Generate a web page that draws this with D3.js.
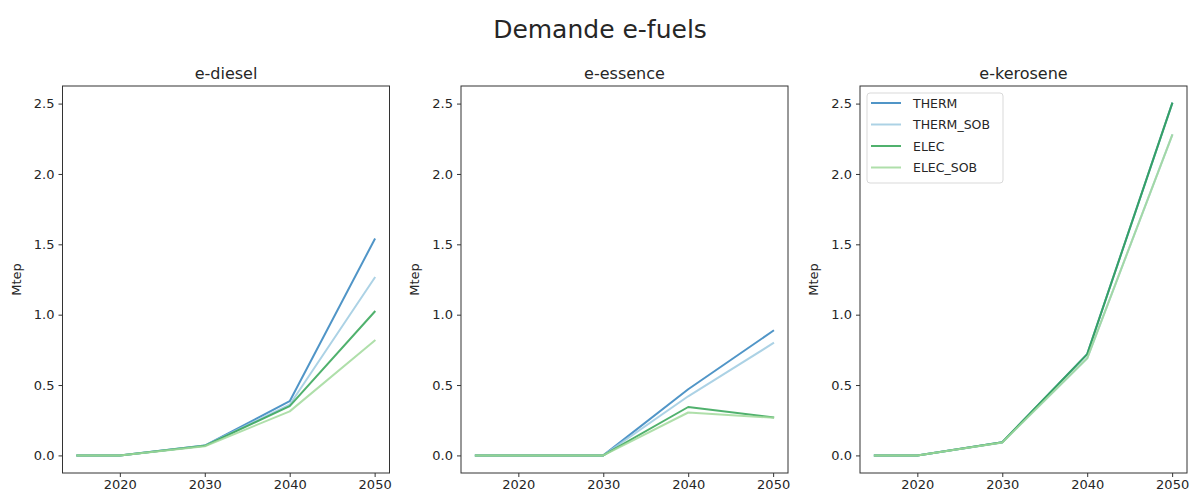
<!DOCTYPE html>
<html><head><meta charset="utf-8">
<script src="https://cdn.jsdelivr.net/npm/d3@7"></script>
<style>body{margin:0;background:#fff;} text{font-family:"DejaVu Sans",sans-serif;fill:#262626;}</style>
</head><body>
<svg id="c" width="1189" height="493"></svg>
<script>
const years = [2015, 2020, 2030, 2040, 2050];
const panels = ["e-diesel", "e-essence", "e-kerosene"];
const seriesNames = ["THERM", "THERM_SOB", "ELEC", "ELEC_SOB"];
const colors = ["#3182bd", "#9ecae1", "#31a354", "#a1d99b"];
// values per panel, per series
const dieselTHERM = [0, 0, 0.07, 0.385, 1.535];
const dieselTHERM_SOB = [0, 0, 0.07, 0.36, 1.262];
const dieselELEC = [0, 0, 0.068, 0.35, 1.021];
const dieselELEC_SOB = [0, 0, 0.065, 0.313, 0.815];
const essenceTHERM = [0, 0, 0, 0.47, 0.885];
const essenceTHERM_SOB = [0, 0, 0, 0.42, 0.797];
const essenceELEC = [0, 0, 0, 0.344, 0.271];
const essenceELEC_SOB = [0, 0, 0, 0.305, 0.268];
const keroseneTHERM = [0, 0, 0.094, 0.72, 2.5];
const keroseneTHERM_SOB = [0, 0, 0.092, 0.69, 2.275];
const keroseneELEC = [0, 0, 0.094, 0.72, 2.5];
const keroseneELEC_SOB = [0, 0, 0.092, 0.69, 2.275];
const yTicks = [0.0, 0.5, 1.0, 1.5, 2.0, 2.5];
const xTicks = [2020, 2030, 2040, 2050];
const title = "Demande e-fuels";
const yLabel = "Mtep";

const data = [
  [dieselTHERM, dieselTHERM_SOB, dieselELEC, dieselELEC_SOB],
  [essenceTHERM, essenceTHERM_SOB, essenceELEC, essenceELEC_SOB],
  [keroseneTHERM, keroseneTHERM_SOB, keroseneELEC, keroseneELEC_SOB]
];

const svg = d3.select("#c");
svg.append("text").attr("x", 600).attr("y", 38).attr("text-anchor", "middle")
  .style("font-size", "25px").text(title);

const lefts = [62.5, 461, 860];
const pw = 327;
const pTop = 86, pBottom = 473;

const y = d3.scaleLinear().domain([-0.125, 2.625]).range([pBottom, pTop]);

panels.forEach((p, i) => {
  const x = d3.scaleLinear().domain([2013.25, 2051.75]).range([lefts[i], lefts[i] + pw]);
  const g = svg.append("g");
  const line = d3.line().x((d, j) => x(years[j])).y(d => y(d));
  data[i].forEach((vals, k) => {
    g.append("path").attr("d", line(vals)).attr("fill", "none")
      .attr("stroke", colors[k]).attr("stroke-width", 2).attr("stroke-opacity", 0.85)
      .attr("stroke-linejoin", "round").attr("stroke-linecap", "square");
  });
  g.append("rect").attr("x", lefts[i]).attr("y", pTop).attr("width", pw).attr("height", pBottom - pTop)
    .attr("fill", "none").attr("stroke", "#333").attr("stroke-width", 1);
  const ax = g.append("g").attr("transform", `translate(0,${pBottom})`)
    .call(d3.axisBottom(x).tickValues(xTicks).tickFormat(d3.format("d")).tickSize(4).tickPadding(3));
  const ay = g.append("g").attr("transform", `translate(${lefts[i]},0)`)
    .call(d3.axisLeft(y).tickValues(yTicks).tickFormat(d3.format(".1f")).tickSize(4).tickPadding(4));
  [ax, ay].forEach(a => {
    a.select(".domain").remove();
    a.selectAll("line").attr("stroke", "#333");
    a.selectAll("text").style("font-size", "13px").style("font-family", "DejaVu Sans, sans-serif").attr("fill", "#262626");
  });
  g.append("text").attr("x", lefts[i] + pw / 2).attr("y", 79).attr("text-anchor", "middle")
    .style("font-size", "16px").text(p);
  g.append("text").attr("transform", `translate(${lefts[i] - 42},${(pTop + pBottom) / 2}) rotate(-90)`)
    .attr("text-anchor", "middle").style("font-size", "13px").text(yLabel);
});

const lg = svg.append("g").attr("transform", "translate(867,93)");
lg.append("rect").attr("width", 136).attr("height", 90).attr("rx", 3)
  .attr("fill", "#fff").attr("fill-opacity", 0.8).attr("stroke", "#d9d9d9");
seriesNames.forEach((s, k) => {
  const yy = 10 + k * 21.5;
  lg.append("line").attr("x1", 4).attr("x2", 34).attr("y1", yy).attr("y2", yy)
    .attr("stroke", colors[k]).attr("stroke-width", 2).attr("stroke-opacity", 0.85);
  lg.append("text").attr("x", 46).attr("y", yy + 4.5).style("font-size", "12.5px").text(s);
});
</script>
</body></html>
